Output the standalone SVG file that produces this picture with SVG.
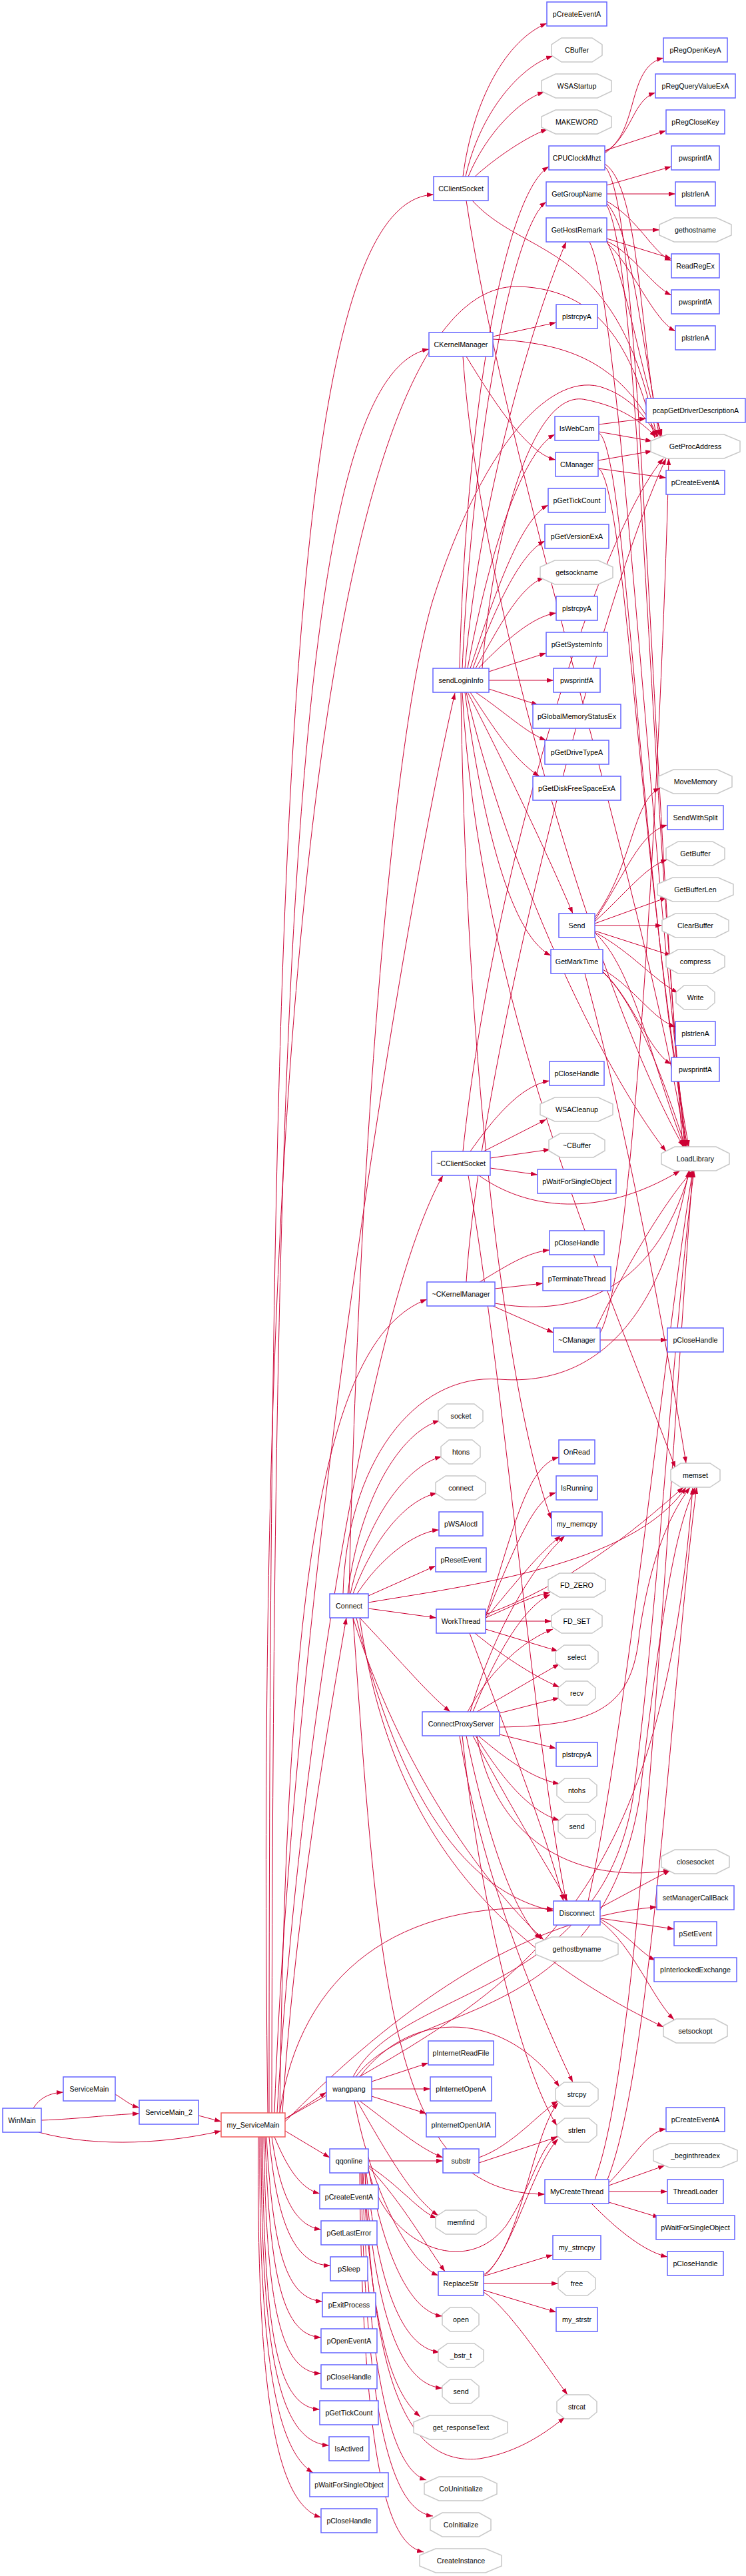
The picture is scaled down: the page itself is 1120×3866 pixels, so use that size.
<svg xmlns="http://www.w3.org/2000/svg" width="1120" height="3866" viewBox="0 0 1120 3866">
<style>
.b rect{fill:#fff;stroke:#6464ff;stroke-width:1.5}
.r rect{fill:#fff;stroke:#f05a5a;stroke-width:1.5}
.o polygon{fill:#fff;stroke:#c8c8c8;stroke-width:1.5}
text{font-family:"Liberation Sans",Arial,sans-serif;font-size:10.7px;text-anchor:middle;fill:#000}
#edges path{fill:none;stroke:#cc0033;stroke-width:1;marker-end:url(#a)}
</style>
<defs>
<marker id="a" viewBox="0 0 10 7" refX="10" refY="3.5" markerWidth="10" markerHeight="7" markerUnits="userSpaceOnUse" orient="auto"><path d="M0,0 L10,3.5 L0,7 z" fill="#cc0033"/></marker>
</defs>
<rect width="1120" height="3866" fill="#fff"/>
<g id="edges">
<path d="M50,3164 C60,3148 75,3141 95,3140"/>
<path d="M62,3182 C120,3180 160,3174 209,3172"/>
<path d="M58,3200 C150,3225 260,3215 332,3198"/>
<path d="M173,3143 C188,3152 196,3160 209,3163"/>
<path d="M298,3175 L332,3184"/>
<path d="M404,3171 C404,1200 440,300 651,292"/>
<path d="M408,3171 C410,1400 450,560 644,524"/>
<path d="M412,3171 C440,2400 600,1400 683,1040"/>
<path d="M416,3171 C450,2600 560,1950 665,1764"/>
<path d="M420,3171 C430,2400 480,2010 641,1950"/>
<path d="M424,3171 C440,2900 490,2600 520,2428"/>
<path d="M428,3180 L490,3140"/>
<path d="M428,3198 L495,3238"/>
<path d="M412,3207 C430,3250 450,3285 480,3292"/>
<path d="M408,3207 C420,3290 440,3340 482,3346"/>
<path d="M404,3207 C415,3330 440,3400 496,3400"/>
<path d="M400,3207 C410,3380 430,3450 484,3454"/>
<path d="M398,3207 C405,3420 425,3505 482,3508"/>
<path d="M396,3207 C400,3460 420,3560 482,3562"/>
<path d="M394,3207 C396,3500 415,3612 480,3616"/>
<path d="M392,3207 C392,3540 420,3665 494,3670"/>
<path d="M390,3207 C388,3560 420,3680 470,3711"/>
<path d="M388,3207 C384,3620 420,3760 482,3778"/>
<path d="M428,3184 C560,3050 760,2880 986,2862"/>
<path d="M420,3171 C450,2960 600,2850 831,2865"/>
<path d="M428,3180 C760,2990 990,2900 1040,2233"/>
<path d="M402,3171 C380,1500 500,420 780,430 C900,435 950,520 983,657"/>
<path d="M695,265 C710,150 760,60 821,35"/>
<path d="M699,265 C720,170 780,100 830,84"/>
<path d="M703,265 C730,200 780,150 817,138"/>
<path d="M713,265 C740,240 790,205 822,194"/>
<path d="M709,301 C790,390 930,360 986,656"/>
<path d="M700,301 C760,700 960,1300 1030,1721"/>
<path d="M740,505 L835,484"/>
<path d="M740,509 C850,515 930,540 988,655"/>
<path d="M700,535 C740,600 790,680 834,690"/>
<path d="M695,535 C720,900 900,1500 1026,1721"/>
<path d="M908,228 C960,200 940,100 996,87"/>
<path d="M908,230 C950,200 950,150 984,139"/>
<path d="M908,226 L1000,196"/>
<path d="M908,246 C960,280 960,500 990,655"/>
<path d="M908,250 C960,300 970,1000 1025,1721"/>
<path d="M911,278 L1008,250"/>
<path d="M911,291 L1014,291"/>
<path d="M911,302 C960,330 980,380 1008,391"/>
<path d="M911,305 C950,350 960,500 992,655"/>
<path d="M911,308 C960,400 970,1100 1028,1721"/>
<path d="M911,345 L990,345"/>
<path d="M911,358 L1008,388"/>
<path d="M911,362 C950,380 980,430 1008,443"/>
<path d="M911,364 C950,400 980,480 1014,497"/>
<path d="M911,362 C940,420 960,550 994,654"/>
<path d="M885,363 C930,450 970,1200 1030,1721"/>
<path d="M899,637 L970,628"/>
<path d="M899,648 L979,662"/>
<path d="M899,650 C940,670 960,1300 1032,1721"/>
<path d="M898,691 L979,677"/>
<path d="M898,703 L1000,717"/>
<path d="M898,702 C940,730 960,1300 1034,1721"/>
<path d="M690,1003 C700,600 760,290 824,250"/>
<path d="M694,1003 C710,650 770,340 820,303"/>
<path d="M698,1003 C720,750 800,480 850,363"/>
<path d="M702,1003 C730,850 780,680 833,652"/>
<path d="M706,1003 C740,900 780,780 823,758"/>
<path d="M710,1003 C740,920 780,830 818,812"/>
<path d="M714,1003 C750,940 780,880 817,867"/>
<path d="M718,1003 C760,960 800,925 835,920"/>
<path d="M734,1008 L820,980"/>
<path d="M734,1021 L831,1021"/>
<path d="M734,1034 L808,1058"/>
<path d="M714,1039 C760,1070 790,1100 820,1111"/>
<path d="M706,1039 C740,1090 770,1140 810,1165"/>
<path d="M702,1039 C760,1150 830,1300 860,1371"/>
<path d="M698,1039 C720,1200 760,1400 827,1434"/>
<path d="M694,1039 C720,1500 900,1900 1014,2203"/>
<path d="M692,1039 C700,1600 760,2100 828,2280"/>
<path d="M700,1039 C760,1300 900,1600 1000,1728"/>
<path d="M724,1003 C740,800 800,580 880,600 C930,610 960,630 985,656"/>
<path d="M706,1728 C740,1680 780,1630 825,1622"/>
<path d="M726,1728 L820,1680"/>
<path d="M736,1738 L826,1725"/>
<path d="M736,1753 L807,1763"/>
<path d="M719,1764 C790,1815 900,1830 1021,1757"/>
<path d="M695,1728 C740,1300 900,800 996,688"/>
<path d="M703,1764 C760,2100 800,2600 850,2853"/>
<path d="M720,1924 C760,1900 790,1880 825,1876"/>
<path d="M743,1934 L815,1926"/>
<path d="M740,1960 L831,2000"/>
<path d="M743,1956 C850,1975 980,1950 1036,1757"/>
<path d="M700,1924 C720,1600 900,900 1000,688"/>
<path d="M901,2011 L1002,2011"/>
<path d="M895,1993 C940,1900 1000,1800 1040,1757"/>
<path d="M901,2000 C960,1900 1000,900 1004,688"/>
<path d="M893,1377 C950,1300 950,1200 991,1183"/>
<path d="M893,1381 C940,1310 960,1250 1002,1238"/>
<path d="M893,1383 C940,1340 970,1300 1002,1290"/>
<path d="M893,1386 L1001,1347"/>
<path d="M893,1389 L994,1389"/>
<path d="M893,1397 L1008,1434"/>
<path d="M893,1399 C950,1430 980,1470 1018,1490"/>
<path d="M893,1400 C950,1450 980,1600 1027,1721"/>
<path d="M905,1455 C950,1480 980,1530 1014,1541"/>
<path d="M905,1458 C950,1500 975,1580 1008,1597"/>
<path d="M905,1459 C950,1500 990,1600 1029,1721"/>
<path d="M878,1461 C930,1650 990,1950 1030,2196"/>
<path d="M522,2392 C540,2250 600,2150 660,2132"/>
<path d="M526,2392 C550,2280 610,2200 663,2186"/>
<path d="M530,2392 C560,2310 610,2250 656,2241"/>
<path d="M536,2392 C570,2340 620,2300 659,2296"/>
<path d="M553,2395 L654,2350"/>
<path d="M553,2414 L655,2428"/>
<path d="M540,2428 C590,2480 640,2540 676,2569"/>
<path d="M530,2428 C600,2650 720,2820 816,2911"/>
<path d="M540,2428 C580,2700 700,2900 996,3042"/>
<path d="M530,2428 C570,3000 590,3293 818,3293"/>
<path d="M553,2405 C700,2380 950,2350 1030,2232"/>
<path d="M535,2428 C600,2700 700,2840 831,2868"/>
<path d="M524,2392 C540,1700 590,1100 650,900 C720,680 820,560 900,580 C950,595 970,630 988,655"/>
<path d="M515,2392 C520,2200 620,2060 750,2070 C880,2080 990,2000 1034,1757"/>
<path d="M729,2425 C770,2300 790,2200 839,2187"/>
<path d="M729,2427 C770,2330 800,2250 835,2240"/>
<path d="M729,2429 C770,2380 810,2330 842,2305"/>
<path d="M729,2428 C770,2410 800,2395 826,2390"/>
<path d="M729,2433 L828,2433"/>
<path d="M729,2445 L838,2478"/>
<path d="M713,2451 C760,2490 810,2520 840,2532"/>
<path d="M729,2423 C850,2380 950,2300 1026,2232"/>
<path d="M705,2451 C760,2600 820,2750 846,2853"/>
<path d="M702,2569 C740,2500 790,2460 830,2445"/>
<path d="M716,2569 L840,2497"/>
<path d="M750,2571 L840,2548"/>
<path d="M750,2603 L835,2624"/>
<path d="M718,2605 C760,2640 800,2670 840,2677"/>
<path d="M714,2605 C760,2680 800,2720 840,2732"/>
<path d="M710,2605 C760,2700 820,2800 852,2853"/>
<path d="M750,2592 C900,2590 950,2560 960,2450 C975,2350 1000,2280 1036,2232"/>
<path d="M706,2569 C740,2450 800,2350 848,2305"/>
<path d="M710,2569 C750,2470 790,2410 826,2393"/>
<path d="M690,2605 C720,2800 800,3000 860,3125"/>
<path d="M700,2605 C730,2750 770,2870 812,2910"/>
<path d="M716,2605 C740,2750 850,2830 1006,2807"/>
<path d="M694,2605 C720,2850 780,3100 836,3190"/>
<path d="M901,2863 L1006,2807"/>
<path d="M901,2879 L1012,2895"/>
<path d="M901,2880 C940,2900 960,2930 984,2942"/>
<path d="M901,2883 C950,2920 980,3000 1012,3031"/>
<path d="M883,2853 C940,2600 1000,2000 1040,1757"/>
<path d="M558,3124 L643,3096"/>
<path d="M558,3135 L646,3135"/>
<path d="M558,3146 L640,3172"/>
<path d="M540,3153 C590,3190 630,3225 665,3238"/>
<path d="M536,3153 C580,3230 620,3300 658,3325"/>
<path d="M540,3117 C620,3010 760,3020 840,3132"/>
<path d="M532,3153 C560,3300 620,3400 658,3415"/>
<path d="M530,3117 C600,2980 900,3000 950,2700 C990,2400 1010,2000 1042,1757"/>
<path d="M534,3117 C620,3000 900,3050 960,2700 C990,2450 1010,2300 1044,2232"/>
<path d="M553,3243 L665,3243"/>
<path d="M553,3250 C600,3280 630,3320 656,3329"/>
<path d="M553,3252 C600,3300 640,3370 668,3409"/>
<path d="M553,3254 C580,3400 620,3470 664,3476"/>
<path d="M550,3261 C570,3450 610,3525 660,3530"/>
<path d="M548,3261 C565,3500 610,3580 664,3584"/>
<path d="M545,3261 C560,3540 600,3600 631,3627"/>
<path d="M548,3261 C560,3600 620,3700 720,3690 C780,3680 820,3650 848,3628"/>
<path d="M544,3261 C555,3620 600,3710 640,3722"/>
<path d="M542,3261 C550,3680 600,3770 650,3776"/>
<path d="M540,3261 C545,3740 590,3820 636,3830"/>
<path d="M553,3256 C580,3370 700,3420 760,3340 C800,3280 810,3220 837,3206"/>
<path d="M719,3238 C770,3220 810,3170 838,3153"/>
<path d="M719,3246 L837,3207"/>
<path d="M726,3416 L830,3384"/>
<path d="M726,3427 L838,3427"/>
<path d="M726,3437 L835,3470"/>
<path d="M726,3440 C760,3460 820,3550 852,3594"/>
<path d="M726,3414 C780,3380 800,3200 838,3156"/>
<path d="M726,3417 C770,3380 800,3250 838,3210"/>
<path d="M914,3276 C950,3240 970,3200 1000,3195"/>
<path d="M914,3280 L998,3250"/>
<path d="M914,3289 L1002,3289"/>
<path d="M914,3305 L990,3328"/>
<path d="M888,3307 C930,3350 970,3380 1002,3387"/>
<path d="M893,3271 C960,3100 1000,2300 1040,1757"/>
<path d="M912,3271 C980,3100 1010,2500 1046,2232"/>
</g>
<g id="n_WinMain" class="b"><rect x="4" y="3164" width="58" height="36"/><text x="33" y="3186">WinMain</text></g>
<g id="n_ServiceMain" class="b"><rect x="95" y="3117" width="78" height="36"/><text x="134" y="3139">ServiceMain</text></g>
<g id="n_ServiceMain_2" class="b"><rect x="209" y="3152" width="89" height="36"/><text x="253.5" y="3174">ServiceMain_2</text></g>
<g id="n_my_ServiceMain" class="r"><rect x="332" y="3171" width="96" height="36"/><text x="380" y="3193">my_ServiceMain</text></g>
<g id="n_Connect" class="b"><rect x="495" y="2392" width="58" height="36"/><text x="524" y="2414">Connect</text></g>
<g id="n_wangpang" class="b"><rect x="490" y="3117" width="68" height="36"/><text x="524" y="3139">wangpang</text></g>
<g id="n_qqonline" class="b"><rect x="495" y="3225" width="58" height="36"/><text x="524" y="3247">qqonline</text></g>
<g id="n_a_pCreateEventA" class="b"><rect x="480" y="3279" width="88" height="36"/><text x="524" y="3301">pCreateEventA</text></g>
<g id="n_a_pGetLastError" class="b"><rect x="482" y="3333" width="84" height="36"/><text x="524" y="3355">pGetLastError</text></g>
<g id="n_a_pSleep" class="b"><rect x="496" y="3387" width="56" height="36"/><text x="524" y="3409">pSleep</text></g>
<g id="n_a_pExitProcess" class="b"><rect x="484" y="3441" width="80" height="36"/><text x="524" y="3463">pExitProcess</text></g>
<g id="n_a_pOpenEventA" class="b"><rect x="482" y="3495" width="84" height="36"/><text x="524" y="3517">pOpenEventA</text></g>
<g id="n_a_pCloseHandle1" class="b"><rect x="482" y="3549" width="84" height="36"/><text x="524" y="3571">pCloseHandle</text></g>
<g id="n_a_pGetTickCount" class="b"><rect x="480" y="3603" width="88" height="36"/><text x="524" y="3625">pGetTickCount</text></g>
<g id="n_a_IsActived" class="b"><rect x="494" y="3657" width="60" height="36"/><text x="524" y="3679">IsActived</text></g>
<g id="n_a_pWaitForSingleObject" class="b"><rect x="465" y="3711" width="118" height="36"/><text x="524" y="3733">pWaitForSingleObject</text></g>
<g id="n_a_pCloseHandle2" class="b"><rect x="482" y="3765" width="84" height="36"/><text x="524" y="3787">pCloseHandle</text></g>
<g id="n_CClientSocket" class="b"><rect x="651" y="265" width="82" height="36"/><text x="692" y="287">CClientSocket</text></g>
<g id="n_CKernelManager" class="b"><rect x="644" y="499" width="96" height="36"/><text x="692" y="521">CKernelManager</text></g>
<g id="n_sendLoginInfo" class="b"><rect x="650" y="1003" width="84" height="36"/><text x="692" y="1025">sendLoginInfo</text></g>
<g id="n_dCClientSocket" class="b"><rect x="648" y="1728" width="88" height="36"/><text x="692" y="1750">~CClientSocket</text></g>
<g id="n_dCKernelManager" class="b"><rect x="641" y="1924" width="102" height="36"/><text x="692" y="1946">~CKernelManager</text></g>
<g id="n_socket" class="o"><polygon points="671,2107 712,2107 725,2117 725,2133 712,2143 671,2143 658,2133 658,2117"/><text x="692" y="2129">socket</text></g>
<g id="n_htons" class="o"><polygon points="674,2161 709,2161 721,2171 721,2187 709,2197 674,2197 662,2187 662,2171"/><text x="692" y="2183">htons</text></g>
<g id="n_connect" class="o"><polygon points="669,2215 714,2215 729,2225 729,2241 714,2251 669,2251 654,2241 654,2225"/><text x="692" y="2237">connect</text></g>
<g id="n_pWSAIoctl" class="b"><rect x="659" y="2269" width="66" height="36"/><text x="692" y="2291">pWSAIoctl</text></g>
<g id="n_pResetEvent" class="b"><rect x="654" y="2323" width="76" height="36"/><text x="692" y="2345">pResetEvent</text></g>
<g id="n_WorkThread" class="b"><rect x="655" y="2415" width="74" height="36"/><text x="692" y="2437">WorkThread</text></g>
<g id="n_ConnectProxyServer" class="b"><rect x="634" y="2569" width="116" height="36"/><text x="692" y="2591">ConnectProxyServer</text></g>
<g id="n_pInternetReadFile" class="b"><rect x="643" y="3063" width="98" height="36"/><text x="692" y="3085">pInternetReadFile</text></g>
<g id="n_pInternetOpenA" class="b"><rect x="646" y="3117" width="92" height="36"/><text x="692" y="3139">pInternetOpenA</text></g>
<g id="n_pInternetOpenUrlA" class="b"><rect x="640" y="3171" width="104" height="36"/><text x="692" y="3193">pInternetOpenUrlA</text></g>
<g id="n_substr" class="b"><rect x="665" y="3225" width="54" height="36"/><text x="692" y="3247">substr</text></g>
<g id="n_memfind" class="o"><polygon points="669,3317 715,3317 730,3327 730,3343 715,3353 669,3353 654,3343 654,3327"/><text x="692" y="3339">memfind</text></g>
<g id="n_ReplaceStr" class="b"><rect x="658" y="3409" width="68" height="36"/><text x="692" y="3431">ReplaceStr</text></g>
<g id="n_open" class="o"><polygon points="676,3463 707,3463 719,3473 719,3489 707,3499 676,3499 664,3489 664,3473"/><text x="692" y="3485">open</text></g>
<g id="n_bstr_t" class="o"><polygon points="672,3517 712,3517 726,3527 726,3543 712,3553 672,3553 658,3543 658,3527"/><text x="692" y="3539">_bstr_t</text></g>
<g id="n_b_send" class="o"><polygon points="676,3571 707,3571 719,3581 719,3597 707,3607 676,3607 664,3597 664,3581"/><text x="692" y="3593">send</text></g>
<g id="n_get_responseText" class="o"><polygon points="645,3625 738,3625 762,3635 762,3651 738,3661 645,3661 621,3651 621,3635"/><text x="692" y="3647">get_responseText</text></g>
<g id="n_CoUninitialize" class="o"><polygon points="659,3717 724,3717 746,3727 746,3743 724,3753 659,3753 637,3743 637,3727"/><text x="692" y="3739">CoUninitialize</text></g>
<g id="n_CoInitialize" class="o"><polygon points="664,3771 719,3771 737,3781 737,3797 719,3807 664,3807 646,3797 646,3781"/><text x="692" y="3793">CoInitialize</text></g>
<g id="n_CreateInstance" class="o"><polygon points="654,3825 729,3825 753,3835 753,3851 729,3861 654,3861 630,3851 630,3835"/><text x="692" y="3847">CreateInstance</text></g>
<g id="n_c_pCreateEventA" class="b"><rect x="821" y="3" width="90" height="36"/><text x="866" y="25">pCreateEventA</text></g>
<g id="n_CBuffer" class="o"><polygon points="843,57 889,57 904,67 904,83 889,93 843,93 828,83 828,67"/><text x="866" y="79">CBuffer</text></g>
<g id="n_WSAStartup" class="o"><polygon points="834,111 897,111 918,121 918,137 897,147 834,147 813,137 813,121"/><text x="866" y="133">WSAStartup</text></g>
<g id="n_MAKEWORD" class="o"><polygon points="834,165 897,165 918,175 918,191 897,201 834,201 813,191 813,175"/><text x="866" y="187">MAKEWORD</text></g>
<g id="n_CPUClockMhzt" class="b"><rect x="824" y="219" width="84" height="36"/><text x="866" y="241">CPUClockMhzt</text></g>
<g id="n_GetGroupName" class="b"><rect x="820" y="273" width="91" height="36"/><text x="866" y="295">GetGroupName</text></g>
<g id="n_GetHostRemark" class="b"><rect x="820" y="327" width="91" height="36"/><text x="866" y="349">GetHostRemark</text></g>
<g id="n_c_plstrcpyA1" class="b"><rect x="835" y="457" width="62" height="36"/><text x="866" y="479">plstrcpyA</text></g>
<g id="n_IsWebCam" class="b"><rect x="833" y="625" width="66" height="36"/><text x="866" y="647">IsWebCam</text></g>
<g id="n_CManager" class="b"><rect x="834" y="679" width="64" height="36"/><text x="866" y="701">CManager</text></g>
<g id="n_c_pGetTickCount" class="b"><rect x="823" y="733" width="86" height="36"/><text x="866" y="755">pGetTickCount</text></g>
<g id="n_pGetVersionExA" class="b"><rect x="818" y="787" width="96" height="36"/><text x="866" y="809">pGetVersionExA</text></g>
<g id="n_getsockname" class="o"><polygon points="833,841 898,841 920,851 920,867 898,877 833,877 811,867 811,851"/><text x="866" y="863">getsockname</text></g>
<g id="n_c_plstrcpyA2" class="b"><rect x="835" y="895" width="62" height="36"/><text x="866" y="917">plstrcpyA</text></g>
<g id="n_pGetSystemInfo" class="b"><rect x="820" y="949" width="92" height="36"/><text x="866" y="971">pGetSystemInfo</text></g>
<g id="n_c_pwsprintfA" class="b"><rect x="831" y="1003" width="70" height="36"/><text x="866" y="1025">pwsprintfA</text></g>
<g id="n_pGlobalMemoryStatusEx" class="b"><rect x="800" y="1057" width="132" height="36"/><text x="866" y="1079">pGlobalMemoryStatusEx</text></g>
<g id="n_pGetDriveTypeA" class="b"><rect x="818" y="1111" width="96" height="36"/><text x="866" y="1133">pGetDriveTypeA</text></g>
<g id="n_pGetDiskFreeSpaceExA" class="b"><rect x="800" y="1165" width="132" height="36"/><text x="866" y="1187">pGetDiskFreeSpaceExA</text></g>
<g id="n_Send" class="b"><rect x="839" y="1371" width="54" height="36"/><text x="866" y="1393">Send</text></g>
<g id="n_GetMarkTime" class="b"><rect x="827" y="1425" width="78" height="36"/><text x="866" y="1447">GetMarkTime</text></g>
<g id="n_c_pCloseHandle1" class="b"><rect x="825" y="1593" width="82" height="36"/><text x="866" y="1615">pCloseHandle</text></g>
<g id="n_WSACleanup" class="o"><polygon points="833,1647 898,1647 920,1657 920,1673 898,1683 833,1683 811,1673 811,1657"/><text x="866" y="1669">WSACleanup</text></g>
<g id="n_dCBuffer" class="o"><polygon points="841,1701 891,1701 908,1711 908,1727 891,1737 841,1737 824,1727 824,1711"/><text x="866" y="1723">~CBuffer</text></g>
<g id="n_c_pWaitForSingleObject" class="b"><rect x="807" y="1755" width="118" height="36"/><text x="866" y="1777">pWaitForSingleObject</text></g>
<g id="n_c_pCloseHandle2" class="b"><rect x="825" y="1847" width="82" height="36"/><text x="866" y="1869">pCloseHandle</text></g>
<g id="n_pTerminateThread" class="b"><rect x="815" y="1901" width="102" height="36"/><text x="866" y="1923">pTerminateThread</text></g>
<g id="n_dCManager" class="b"><rect x="831" y="1993" width="70" height="36"/><text x="866" y="2015">~CManager</text></g>
<g id="n_OnRead" class="b"><rect x="839" y="2161" width="54" height="36"/><text x="866" y="2183">OnRead</text></g>
<g id="n_IsRunning" class="b"><rect x="835" y="2215" width="62" height="36"/><text x="866" y="2237">IsRunning</text></g>
<g id="n_my_memcpy" class="b"><rect x="828" y="2269" width="76" height="36"/><text x="866" y="2291">my_memcpy</text></g>
<g id="n_FD_ZERO" class="o"><polygon points="840,2361 892,2361 909,2371 909,2387 892,2397 840,2397 823,2387 823,2371"/><text x="866" y="2383">FD_ZERO</text></g>
<g id="n_FD_SET" class="o"><polygon points="843,2415 889,2415 904,2425 904,2441 889,2451 843,2451 828,2441 828,2425"/><text x="866" y="2437">FD_SET</text></g>
<g id="n_select" class="o"><polygon points="847,2469 885,2469 898,2479 898,2495 885,2505 847,2505 834,2495 834,2479"/><text x="866" y="2491">select</text></g>
<g id="n_recv" class="o"><polygon points="850,2523 882,2523 894,2533 894,2549 882,2559 850,2559 838,2549 838,2533"/><text x="866" y="2545">recv</text></g>
<g id="n_c_plstrcpyA3" class="b"><rect x="835" y="2615" width="62" height="36"/><text x="866" y="2637">plstrcpyA</text></g>
<g id="n_ntohs" class="o"><polygon points="848,2669 884,2669 896,2679 896,2695 884,2705 848,2705 836,2695 836,2679"/><text x="866" y="2691">ntohs</text></g>
<g id="n_c_send" class="o"><polygon points="850,2723 882,2723 894,2733 894,2749 882,2759 850,2759 838,2749 838,2733"/><text x="866" y="2745">send</text></g>
<g id="n_Disconnect" class="b"><rect x="831" y="2853" width="70" height="36"/><text x="866" y="2875">Disconnect</text></g>
<g id="n_gethostbyname" class="o"><polygon points="828,2907 904,2907 928,2917 928,2933 904,2943 828,2943 804,2933 804,2917"/><text x="866" y="2929">gethostbyname</text></g>
<g id="n_strcpy" class="o"><polygon points="847,3125 885,3125 898,3135 898,3151 885,3161 847,3161 834,3151 834,3135"/><text x="866" y="3147">strcpy</text></g>
<g id="n_strlen" class="o"><polygon points="848,3179 884,3179 896,3189 896,3205 884,3215 848,3215 836,3205 836,3189"/><text x="866" y="3201">strlen</text></g>
<g id="n_MyCreateThread" class="b"><rect x="818" y="3271" width="96" height="36"/><text x="866" y="3293">MyCreateThread</text></g>
<g id="n_my_strncpy" class="b"><rect x="830" y="3355" width="72" height="36"/><text x="866" y="3377">my_strncpy</text></g>
<g id="n_free" class="o"><polygon points="850,3409 882,3409 894,3419 894,3435 882,3445 850,3445 838,3435 838,3419"/><text x="866" y="3431">free</text></g>
<g id="n_my_strstr" class="b"><rect x="835" y="3463" width="62" height="36"/><text x="866" y="3485">my_strstr</text></g>
<g id="n_strcat" class="o"><polygon points="848,3594 884,3594 896,3604 896,3620 884,3630 848,3630 836,3620 836,3604"/><text x="866" y="3616">strcat</text></g>
<g id="n_pRegOpenKeyA" class="b"><rect x="996" y="57" width="96" height="36"/><text x="1044" y="79">pRegOpenKeyA</text></g>
<g id="n_pRegQueryValueExA" class="b"><rect x="984" y="111" width="120" height="36"/><text x="1044" y="133">pRegQueryValueExA</text></g>
<g id="n_pRegCloseKey" class="b"><rect x="1000" y="165" width="88" height="36"/><text x="1044" y="187">pRegCloseKey</text></g>
<g id="n_d_pwsprintfA1" class="b"><rect x="1008" y="219" width="72" height="36"/><text x="1044" y="241">pwsprintfA</text></g>
<g id="n_d_plstrlenA1" class="b"><rect x="1014" y="273" width="60" height="36"/><text x="1044" y="295">plstrlenA</text></g>
<g id="n_gethostname" class="o"><polygon points="1012,327 1076,327 1098,337 1098,353 1076,363 1012,363 990,353 990,337"/><text x="1044" y="349">gethostname</text></g>
<g id="n_ReadRegEx" class="b"><rect x="1008" y="381" width="72" height="36"/><text x="1044" y="403">ReadRegEx</text></g>
<g id="n_d_pwsprintfA2" class="b"><rect x="1008" y="435" width="72" height="36"/><text x="1044" y="457">pwsprintfA</text></g>
<g id="n_d_plstrlenA2" class="b"><rect x="1014" y="489" width="60" height="36"/><text x="1044" y="511">plstrlenA</text></g>
<g id="n_pcapGetDriverDescriptionA" class="b"><rect x="970" y="598" width="149" height="36"/><text x="1044.5" y="620">pcapGetDriverDescriptionA</text></g>
<g id="n_GetProcAddress" class="o"><polygon points="1001,652 1087,652 1111,662 1111,678 1087,688 1001,688 977,678 977,662"/><text x="1044" y="674">GetProcAddress</text></g>
<g id="n_d_pCreateEventA1" class="b"><rect x="1000" y="706" width="88" height="36"/><text x="1044" y="728">pCreateEventA</text></g>
<g id="n_MoveMemory" class="o"><polygon points="1011,1155 1077,1155 1099,1165 1099,1181 1077,1191 1011,1191 989,1181 989,1165"/><text x="1044" y="1177">MoveMemory</text></g>
<g id="n_SendWithSplit" class="b"><rect x="1002" y="1209" width="84" height="36"/><text x="1044" y="1231">SendWithSplit</text></g>
<g id="n_GetBuffer" class="o"><polygon points="1018,1263 1070,1263 1088,1273 1088,1289 1070,1299 1018,1299 1000,1289 1000,1273"/><text x="1044" y="1285">GetBuffer</text></g>
<g id="n_GetBufferLen" class="o"><polygon points="1010,1317 1078,1317 1101,1327 1101,1343 1078,1353 1010,1353 987,1343 987,1327"/><text x="1044" y="1339">GetBufferLen</text></g>
<g id="n_ClearBuffer" class="o"><polygon points="1014,1371 1074,1371 1094,1381 1094,1397 1074,1407 1014,1407 994,1397 994,1381"/><text x="1044" y="1393">ClearBuffer</text></g>
<g id="n_compress" class="o"><polygon points="1018,1425 1070,1425 1088,1435 1088,1451 1070,1461 1018,1461 1000,1451 1000,1435"/><text x="1044" y="1447">compress</text></g>
<g id="n_Write" class="o"><polygon points="1027,1479 1061,1479 1073,1489 1073,1505 1061,1515 1027,1515 1015,1505 1015,1489"/><text x="1044" y="1501">Write</text></g>
<g id="n_d_plstrlenA3" class="b"><rect x="1014" y="1533" width="60" height="36"/><text x="1044" y="1555">plstrlenA</text></g>
<g id="n_d_pwsprintfA3" class="b"><rect x="1008" y="1587" width="72" height="36"/><text x="1044" y="1609">pwsprintfA</text></g>
<g id="n_LoadLibrary" class="o"><polygon points="1013,1721 1075,1721 1095,1731 1095,1747 1075,1757 1013,1757 993,1747 993,1731"/><text x="1044" y="1743">LoadLibrary</text></g>
<g id="n_d_pCloseHandle1" class="b"><rect x="1002" y="1993" width="84" height="36"/><text x="1044" y="2015">pCloseHandle</text></g>
<g id="n_memset" class="o"><polygon points="1022,2196 1066,2196 1081,2206 1081,2222 1066,2232 1022,2232 1007,2222 1007,2206"/><text x="1044" y="2218">memset</text></g>
<g id="n_closesocket" class="o"><polygon points="1013,2776 1075,2776 1095,2786 1095,2802 1075,2812 1013,2812 993,2802 993,2786"/><text x="1044" y="2798">closesocket</text></g>
<g id="n_setManagerCallBack" class="b"><rect x="986" y="2830" width="116" height="36"/><text x="1044" y="2852">setManagerCallBack</text></g>
<g id="n_pSetEvent" class="b"><rect x="1012" y="2884" width="64" height="36"/><text x="1044" y="2906">pSetEvent</text></g>
<g id="n_pInterlockedExchange" class="b"><rect x="982" y="2938" width="124" height="36"/><text x="1044" y="2960">pInterlockedExchange</text></g>
<g id="n_setsockopt" class="o"><polygon points="1015,3030 1073,3030 1092,3040 1092,3056 1073,3066 1015,3066 996,3056 996,3040"/><text x="1044" y="3052">setsockopt</text></g>
<g id="n_d_pCreateEventA2" class="b"><rect x="1000" y="3163" width="88" height="36"/><text x="1044" y="3185">pCreateEventA</text></g>
<g id="n_beginthreadex" class="o"><polygon points="1005,3217 1083,3217 1107,3227 1107,3243 1083,3253 1005,3253 981,3243 981,3227"/><text x="1044" y="3239">_beginthreadex</text></g>
<g id="n_ThreadLoader" class="b"><rect x="1002" y="3271" width="84" height="36"/><text x="1044" y="3293">ThreadLoader</text></g>
<g id="n_d_pWaitForSingleObject" class="b"><rect x="985" y="3325" width="118" height="36"/><text x="1044" y="3347">pWaitForSingleObject</text></g>
<g id="n_d_pCloseHandle2" class="b"><rect x="1002" y="3379" width="84" height="36"/><text x="1044" y="3401">pCloseHandle</text></g>
</svg>
